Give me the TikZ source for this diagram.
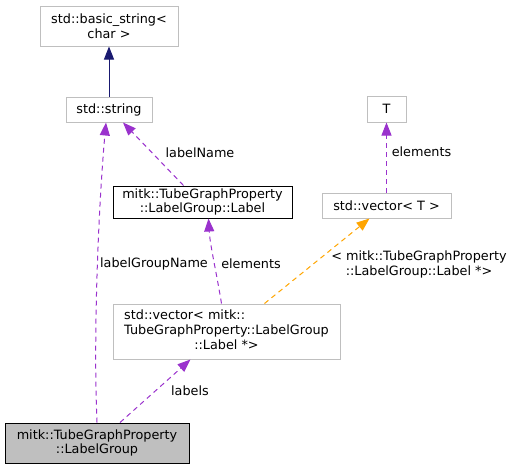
\documentclass[tikz,border=0pt]{standalone}
\usepackage{fontspec}
\setmainfont{DejaVu Sans}
\usetikzlibrary{arrows.meta}
\definecolor{edgepurple}{HTML}{9A32CD}
\definecolor{edgenavy}{HTML}{191970}
\definecolor{edgeorange}{HTML}{FFA500}
\definecolor{boxgrey}{HTML}{BFBFBF}

\begin{document}
\begin{tikzpicture}[x=1pt, y=-1pt,
  every node/.style={font=\fontsize{12.8}{14.8}\selectfont, inner sep=0pt},
  cls/.style={draw=boxgrey, fill=white, line width=1pt, align=center},
  memb/.style={draw=edgepurple, dash pattern=on 5pt off 4pt, line width=1pt,
    -{Triangle[length=13pt, width=10pt, fill=edgepurple]}},
  tmpl/.style={draw=edgeorange, dash pattern=on 5pt off 4pt, line width=1pt,
    -{Triangle[length=13pt, width=10pt, fill=edgeorange]}},
  base/.style={draw=edgenavy, line width=1pt,
    -{Triangle[length=13pt, width=10pt, fill=edgenavy]}}]
  \useasboundingbox (0,0) rectangle (513,469);

  \node[cls, minimum width=138pt, minimum height=40pt] (bs) at (109,26) {std::basic\_string<\\char >};
  \node[cls, minimum width=86pt, minimum height=25pt] (str) at (109,109.5) {std::string};
  \node[cls, draw=black, minimum width=179pt, minimum height=32pt] (lbl) at (202.5,202) {mitk::TubeGraphProperty\\::LabelGroup::Label};
  \node[cls, minimum width=39pt, minimum height=26pt] (T) at (386.5,109) {T};
  \node[cls, minimum width=129pt, minimum height=25pt] (vT) at (386.5,205.5) {std::vector< T >};
  \node[cls, minimum width=227pt, minimum height=55pt] (vL) at (226.5,331.5)
    {\begin{tabular}{@{}l@{}}std::vector< mitk::\\TubeGraphProperty::LabelGroup\\\multicolumn{1}{@{}c@{}}{::Label *>}\end{tabular}};
  \node[cls, draw=black, fill=boxgrey, minimum width=184pt, minimum height=40pt] (LG) at (97,443) {mitk::TubeGraphProperty\\::LabelGroup};

  \draw[base] (str) -- (bs);
  \draw[memb] ([xshift=-19pt]lbl.north) -- ([xshift=14pt]str.south);
  \draw[memb] (LG.north) .. controls (93,330) and (99,200) .. ([xshift=-3pt]str.south);
  \draw[memb] ([xshift=23pt]LG.north) -- ([xshift=-36pt]vL.south);
  \draw[memb] ([xshift=-5pt]vL.north) .. controls (216,270) and (210,245) .. ([xshift=6pt]lbl.south);
  \draw[tmpl] ([xshift=38pt]vL.north) -- ([xshift=-17pt]vT.south);
  \draw[memb] (vT) -- (T);

  \node (lname) at (200,153) {labelName};
  \node (lgname) at (154,264) {labelGroupName};
  \node (elemL) at (251,264) {elements};
  \node[align=center] (targ) at (419,264.5) {< mitk::TubeGraphProperty\\::LabelGroup::Label *>};
  \node (lbls) at (190,391) {labels};
  \node (elemT) at (421.5,152) {elements};
\end{tikzpicture}
\end{document}
